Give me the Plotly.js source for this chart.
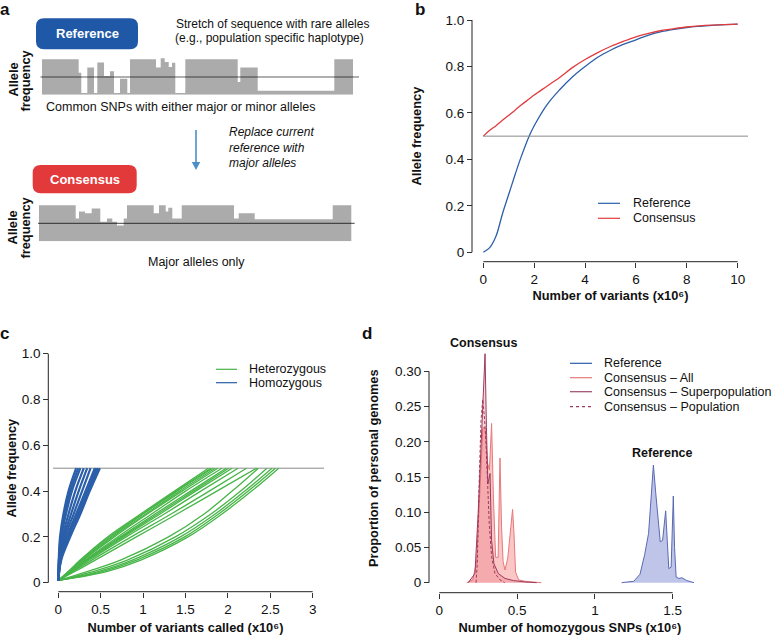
<!DOCTYPE html>
<html>
<head>
<meta charset="utf-8">
<script src="https://cdn.plot.ly/plotly-3.0.1.min.js"></script>
<style>body{margin:0;background:#fff}#fig{width:777px;height:635px}</style>
</head>
<body>
<div id="fig"></div>
<script>
const W = 777, H = 635;
const px = v => v / W;
const py = v => 1 - v / H;
const font = 'Liberation Sans, Arial, Helvetica, sans-serif';

// panel a: allele frequency profile along the stretch (segment edges, frequency per segment)
const refEdges = [0, 36.7, 39.3, 45.3, 52, 55.3, 62, 68, 72, 78, 85.3, 88, 114, 118.7, 122.7, 126.7, 130, 133.3, 143.3, 195.7, 198.3, 215.7, 292.3, 311];
const refFreq = [1.0, 0.62, 0.05, 0.77, 0.05, 0.91, 0.53, 0.66, 0.05, 0.45, 0.05, 1.0, 0.77, 1.03, 0.92, 0.78, 0.9, 0.05, 1.0, 0.36, 0.77, 0.11, 1.0];
const consEdges = [0, 36.7, 40, 46, 52.7, 61.3, 68, 73.3, 78, 84.7, 88, 114.7, 120, 126.7, 129.3, 133.3, 142.7, 195, 199.7, 215.7, 293.7, 312.3];
const consFreq = [1.0, 0.63, 0.83, 0.78, 0.91, 0.54, 0.63, 0.54, 0.44, 0.63, 1.0, 0.78, 1.0, 0.83, 0.93, 0.63, 1.0, 0.63, 0.78, 0.61, 1.0];

// panel b
const variantsM = [0, 0.25, 0.5, 0.75, 1, 1.25, 1.5, 1.8, 2, 2.5, 3, 3.5, 4, 4.5, 5, 5.5, 6, 6.5, 7, 7.5, 8, 8.5, 9, 9.5, 10];
const refAF = [0, 0.02, 0.07, 0.165, 0.25, 0.335, 0.415, 0.5, 0.545, 0.635, 0.70, 0.755, 0.80, 0.84, 0.87, 0.895, 0.915, 0.935, 0.95, 0.96, 0.968, 0.973, 0.977, 0.98, 0.982];
const consAF = [0.5, 0.525, 0.545, 0.568, 0.59, 0.612, 0.635, 0.66, 0.677, 0.715, 0.753, 0.795, 0.83, 0.86, 0.886, 0.908, 0.928, 0.943, 0.955, 0.963, 0.97, 0.975, 0.978, 0.98, 0.982];

// panel c: variants called (x10^6) at each allele frequency level, one row per genome
const hetLevels = [0.01, 0.05, 0.1, 0.2, 0.3, 0.4, 0.5];
const hetUpper = [
  [0, 0.12, 0.26, 0.58, 0.97, 1.37, 1.77],
  [0, 0.125, 0.27, 0.60, 0.99, 1.39, 1.80],
  [0, 0.13, 0.28, 0.62, 1.00, 1.40, 1.82],
  [0, 0.135, 0.29, 0.64, 1.03, 1.43, 1.85],
  [0, 0.14, 0.30, 0.66, 1.05, 1.46, 1.88],
  [0, 0.15, 0.32, 0.70, 1.10, 1.50, 1.93],
  [0, 0.15, 0.33, 0.73, 1.14, 1.56, 1.98],
  [0, 0.155, 0.34, 0.75, 1.17, 1.59, 2.01],
  [0, 0.16, 0.35, 0.77, 1.20, 1.62, 2.05],
  [0, 0.17, 0.37, 0.80, 1.25, 1.68, 2.12],
  [0, 0.18, 0.40, 0.86, 1.33, 1.78, 2.22],
  [0, 0.20, 0.44, 0.92, 1.40, 1.87, 2.34]
];
const hetLower = [
  [0, 0.35, 0.74, 1.30, 1.72, 2.05, 2.36],
  [0, 0.42, 0.82, 1.38, 1.80, 2.15, 2.46],
  [0, 0.48, 0.88, 1.44, 1.85, 2.20, 2.52],
  [0, 0.53, 0.93, 1.49, 1.89, 2.24, 2.56],
  [0, 0.58, 0.98, 1.53, 1.93, 2.28, 2.60]
];
const homLevels = [0.01, 0.1, 0.2, 0.3, 0.4, 0.5];
const homCurves = [
  [0, 0.005, 0.02, 0.06, 0.12, 0.21],
  [0, 0.007, 0.028, 0.075, 0.14, 0.235],
  [0, 0.008, 0.035, 0.09, 0.16, 0.26],
  [0, 0.012, 0.05, 0.12, 0.20, 0.30],
  [0, 0.016, 0.065, 0.15, 0.24, 0.34],
  [0, 0.02, 0.08, 0.18, 0.28, 0.38],
  [0, 0.025, 0.10, 0.21, 0.32, 0.43],
  [0, 0.028, 0.11, 0.225, 0.34, 0.45],
  [0, 0.03, 0.12, 0.24, 0.355, 0.47],
  [0, 0.035, 0.14, 0.26, 0.37, 0.49]
];

// panel d: distribution of homozygous SNP counts (x10^6)
const dRefX = [1.172, 1.25, 1.29, 1.32, 1.345, 1.36, 1.376, 1.39, 1.405, 1.42, 1.435, 1.447, 1.455, 1.465, 1.475, 1.49, 1.497, 1.504, 1.512, 1.522, 1.54, 1.56, 1.59, 1.637];
const dRefY = [0, 0.002, 0.012, 0.04, 0.07, 0.12, 0.167, 0.13, 0.09, 0.058, 0.06, 0.09, 0.102, 0.06, 0.02, 0.022, 0.07, 0.123, 0.05, 0.008, 0.006, 0.007, 0.003, 0];
const dAllX = [0.176, 0.215, 0.24, 0.26, 0.28, 0.294, 0.31, 0.322, 0.336, 0.348, 0.362, 0.378, 0.39, 0.40, 0.41, 0.422, 0.44, 0.46, 0.471, 0.48, 0.49, 0.51, 0.55, 0.60, 0.656];
const dAllY = [0, 0.004, 0.03, 0.12, 0.22, 0.22, 0.17, 0.16, 0.226, 0.12, 0.036, 0.036, 0.177, 0.08, 0.03, 0.018, 0.035, 0.08, 0.104, 0.07, 0.015, 0.004, 0.002, 0.001, 0];
const dSupX = [0.186, 0.229, 0.25, 0.268, 0.279, 0.294, 0.303, 0.312, 0.326, 0.336, 0.351, 0.379, 0.422, 0.476, 0.55, 0.626];
const dSupY = [0, 0.013, 0.10, 0.19, 0.245, 0.325, 0.22, 0.14, 0.155, 0.06, 0.027, 0.013, 0.006, 0.003, 0.001, 0];
const dPopX = [0.236, 0.244, 0.257, 0.268, 0.279, 0.29, 0.30, 0.31, 0.321, 0.336, 0.358, 0.39, 0.42];
const dPopY = [0, 0.027, 0.15, 0.23, 0.26, 0.235, 0.198, 0.14, 0.084, 0.037, 0.013, 0.004, 0];

const blue = '#2b5fa9', red = '#e23b3e', green = '#47b548';

let data = [];

// panel a profiles as filled steps
function stepTrace(edges, freq, xa, ya) {
  return {
    x: edges, y: freq.concat([freq[freq.length - 1]]),
    xaxis: xa, yaxis: ya, mode: 'lines', line: {shape: 'hv', width: 0},
    fill: 'tozeroy', fillcolor: '#ababab', hoverinfo: 'skip', showlegend: false
  };
}
data.push(stepTrace(refEdges, refFreq, 'x4', 'y4'));
data.push(stepTrace(consEdges, consFreq, 'x5', 'y5'));

// panel b
data.push({x: variantsM, y: refAF, xaxis: 'x', yaxis: 'y', mode: 'lines', name: 'Reference',
  line: {color: blue, width: 1.3, shape: 'spline'}, showlegend: false});
data.push({x: variantsM, y: consAF, xaxis: 'x', yaxis: 'y', mode: 'lines', name: 'Consensus',
  line: {color: red, width: 1.3, shape: 'spline'}, showlegend: false});

// panel c
hetUpper.concat(hetLower).forEach(row => data.push({
  x: row, y: hetLevels, xaxis: 'x2', yaxis: 'y2', mode: 'lines', name: 'Heterozygous',
  line: {color: green, width: 1.3, shape: 'spline'}, showlegend: false
}));
homCurves.forEach(row => data.push({
  x: row, y: homLevels, xaxis: 'x2', yaxis: 'y2', mode: 'lines', name: 'Homozygous',
  line: {color: blue, width: 2.2, shape: 'spline'}, showlegend: false
}));

// panel d
data.push({x: dAllX, y: dAllY, xaxis: 'x3', yaxis: 'y3', mode: 'lines', name: 'Consensus – All',
  line: {color: '#e8787a', width: 1}, fill: 'tozeroy', fillcolor: 'rgba(242,120,120,0.42)', showlegend: false});
data.push({x: dSupX, y: dSupY, xaxis: 'x3', yaxis: 'y3', mode: 'lines', name: 'Consensus – Superpopulation',
  line: {color: '#9c3a5c', width: 1}, fill: 'tozeroy', fillcolor: 'rgba(230,90,105,0.25)', showlegend: false});
data.push({x: dPopX, y: dPopY, xaxis: 'x3', yaxis: 'y3', mode: 'lines', name: 'Consensus – Population',
  line: {color: '#9c3a5c', width: 1, dash: '3px,2px'}, showlegend: false});
data.push({x: dRefX, y: dRefY, xaxis: 'x3', yaxis: 'y3', mode: 'lines', name: 'Reference',
  line: {color: '#5a6ab2', width: 1}, fill: 'tozeroy', fillcolor: 'rgba(125,140,212,0.5)', showlegend: false});

const tickFont = {family: font, size: 13.5, color: '#111'};
const titleFont = {family: font, size: 12.8, color: '#111', weight: 'bold'};
const axisBase = {showgrid: false, zeroline: false, showline: false, ticks: 'outside', ticklen: 5,
  tickwidth: 1, tickcolor: '#333', tickfont: tickFont, anchor: 'free', fixedrange: true, automargin: false};
const hidden = {visible: false, fixedrange: true};

function roundRect(x0, y0, x1, y1, r) {
  const X = v => (v / W).toFixed(5), Y = v => (1 - v / H).toFixed(5);
  return `M${X(x0 + r)},${Y(y0)} L${X(x1 - r)},${Y(y0)} Q${X(x1)},${Y(y0)} ${X(x1)},${Y(y0 + r)} ` +
    `L${X(x1)},${Y(y1 - r)} Q${X(x1)},${Y(y1)} ${X(x1 - r)},${Y(y1)} L${X(x0 + r)},${Y(y1)} ` +
    `Q${X(x0)},${Y(y1)} ${X(x0)},${Y(y1 - r)} L${X(x0)},${Y(y0 + r)} Q${X(x0)},${Y(y0)} ${X(x0 + r)},${Y(y0)} Z`;
}
function triangle(cx, tipY, half, len) {
  const X = v => (v / W).toFixed(5), Y = v => (1 - v / H).toFixed(5);
  return `M${X(cx - half)},${Y(tipY - len)} L${X(cx + half)},${Y(tipY - len)} L${X(cx)},${Y(tipY)} Z`;
}

const axisLine = {color: '#222', width: 1};
const midLine = {color: '#8a8a8a', width: 1};
const arrowColor = '#4a8fcb';
let shapes = [
  // panel a
  {type: 'path', xref: 'paper', yref: 'paper', path: roundRect(36, 18.3, 138, 49.3, 8), fillcolor: '#1f58a6', line: {width: 0}},
  {type: 'path', xref: 'paper', yref: 'paper', path: roundRect(32.7, 165, 136.7, 193.3, 8), fillcolor: '#e2393a', line: {width: 0}},
  {type: 'line', xref: 'x4', yref: 'y4', x0: -1.5, x1: 317, y0: 0.5, y1: 0.5, line: {color: 'rgba(0,0,0,0.42)', width: 1.3}},
  {type: 'line', xref: 'x5', yref: 'y5', x0: -1, x1: 315.7, y0: 0.5, y1: 0.5, line: {color: 'rgba(0,0,0,0.75)', width: 1}},
  {type: 'line', xref: 'paper', yref: 'paper', x0: px(196), x1: px(196), y0: py(130), y1: py(163), line: {color: arrowColor, width: 1.6}},
  {type: 'path', xref: 'paper', yref: 'paper', path: triangle(196, 170, 4.2, 8), fillcolor: arrowColor, line: {width: 0}},
  // panel b
  {type: 'line', xref: 'x', yref: 'paper', x0: 0, x1: 10, y0: py(261.7), y1: py(261.7), line: axisLine},
  {type: 'line', xref: 'paper', yref: 'y', x0: px(472), x1: px(472), y0: 0, y1: 1, line: axisLine},
  {type: 'line', xref: 'paper', yref: 'y', x0: px(483), x1: px(748), y0: 0.5, y1: 0.5, line: midLine},
  // panel c
  {type: 'line', xref: 'x2', yref: 'paper', x0: 0, x1: 3, y0: py(591.7), y1: py(591.7), line: axisLine},
  {type: 'line', xref: 'paper', yref: 'y2', x0: px(48.3), x1: px(48.3), y0: 0, y1: 1, line: axisLine},
  {type: 'line', xref: 'paper', yref: 'y2', x0: px(53), x1: px(324), y0: 0.5, y1: 0.5, line: midLine, layer: 'below'},
  // panel d
  {type: 'line', xref: 'x3', yref: 'paper', x0: 0, x1: 1.5, y0: py(592.7), y1: py(592.7), line: axisLine},
  {type: 'line', xref: 'paper', yref: 'y3', x0: px(429), x1: px(429), y0: 0, y1: 0.30, line: axisLine}
];

function txt(text, x, y, opts) {
  return Object.assign({text: text, x: px(x), y: py(y), xref: 'paper', yref: 'paper', showarrow: false,
    xanchor: 'center', yanchor: 'middle', font: {family: font, size: 12.5, color: '#111'}}, opts || {});
}
const bold = (size, color) => ({family: font, size: size, color: color || '#111', weight: 'bold'});

let annotations = [
  // panel letters
  txt('<b>a</b>', 4.5, 9, {font: bold(17)}),
  txt('<b>b</b>', 420, 9, {font: bold(17)}),
  txt('<b>c</b>', 4, 333, {font: bold(17)}),
  txt('<b>d</b>', 367, 333, {font: bold(17)}),
  // panel a
  txt('<b>Reference</b>', 87, 33.8, {font: bold(13, '#fff')}),
  txt('<b>Consensus</b>', 84.7, 179, {font: bold(13, '#fff')}),
  txt('Stretch of sequence with rare alleles', 174, 24, {xanchor: 'left', font: {family: font, size: 12, color: '#111'}}),
  txt('(e.g., population specific haplotype)', 173, 37.5, {xanchor: 'left', font: {family: font, size: 12, color: '#111'}}),
  txt('<b>Allele</b>', 12.5, 80, {textangle: -90, font: bold(12.8)}),
  txt('<b>frequency</b>', 24.5, 80, {textangle: -90, font: bold(12.8)}),
  txt('<b>Allele</b>', 12, 227.5, {textangle: -90, font: bold(12.8)}),
  txt('<b>frequency</b>', 25, 227.5, {textangle: -90, font: bold(12.8)}),
  txt('Common SNPs with either major or minor alleles', 44, 106.5, {xanchor: 'left'}),
  txt('<i>Replace current<br>reference with<br>major alleles</i>', 227, 147.5, {xanchor: 'left', align: 'left', font: {family: font, size: 12, color: '#111'}}),
  txt('Major alleles only', 146, 262, {xanchor: 'left'}),
  // panel d labels
  txt('<b>Consensus</b>', 483.3, 343.3, {font: bold(12.5)}),
  txt('<b>Reference</b>', 661.7, 452.7, {font: bold(12.5)})
];

// manual legends (compact row spacing as in the figure)
function legend(items, keyX0, keyX1, textX, rowY) {
  items.forEach((it, i) => {
    shapes.push({type: 'line', xref: 'paper', yref: 'paper', x0: px(keyX0), x1: px(keyX1),
      y0: py(rowY[i]), y1: py(rowY[i]), line: {color: it.color, width: 1.2, dash: it.dash || 'solid'}});
    annotations.push(txt(it.name, textX, rowY[i], {xanchor: 'left'}));
  });
}
legend([{name: 'Reference', color: blue}, {name: 'Consensus', color: red}], 598, 620, 630.5, [203.3, 218.3]);
legend([{name: 'Heterozygous', color: green}, {name: 'Homozygous', color: blue}], 216, 237, 246.5, [369.3, 382.7]);
legend([
  {name: 'Reference', color: blue},
  {name: 'Consensus – All', color: '#e8787a'},
  {name: 'Consensus – Superpopulation', color: '#9c4a6c'},
  {name: 'Consensus – Population', color: '#9c3a5c', dash: '3px,3px'}
], 570, 592, 602, [363.3, 377.7, 391.7, 406.7]);

const afTicks = {tickvals: [0, 0.2, 0.4, 0.6, 0.8, 1.0], ticktext: ['0', '0.2', '0.4', '0.6', '0.8', '1.0']};

let layout = {
  width: W, height: H,
  margin: {l: 0, r: 0, t: 0, b: 0},
  paper_bgcolor: '#fff', plot_bgcolor: 'rgba(0,0,0,0)',
  showlegend: false,
  font: {family: font, color: '#111'},

  xaxis: Object.assign({}, axisBase, {domain: [px(480.8), px(740.2)], range: [-0.1, 10.1], position: py(261.7),
    tickvals: [0, 2, 4, 6, 8, 10],
    title: {text: 'Number of variants (x10⁶)', font: titleFont, standoff: 5}}),
  yaxis: Object.assign({}, axisBase, afTicks, {domain: [py(256.9), py(15.4)], range: [-0.02, 1.02], position: px(472),
    title: {text: 'Allele frequency', font: titleFont, standoff: 20}}),

  xaxis2: Object.assign({}, axisBase, {domain: [px(55.8), px(315.2)], range: [-0.03, 3.03], position: py(591.7),
    tickvals: [0, 0.5, 1, 1.5, 2, 2.5, 3], ticktext: ['0', '0.5', '1', '1.5', '2', '2.5', '3'],
    title: {text: 'Number of variants called (x10⁶)', font: titleFont, standoff: 9}}),
  yaxis2: Object.assign({}, axisBase, afTicks, {domain: [py(587.3), py(349.1)], range: [-0.02, 1.02], position: px(48.3),
    title: {text: 'Allele frequency', font: titleFont, standoff: 1}}),

  xaxis3: Object.assign({}, axisBase, {domain: [px(436.2), px(703.8)], range: [-0.02, 1.7], position: py(592.7),
    tickvals: [0, 0.5, 1, 1.5], ticktext: ['0', '0.5', '1', '1.5'],
    title: {text: 'Number of homozygous SNPs (x10⁶)', font: titleFont, standoff: 9}}),
  yaxis3: Object.assign({}, axisBase, {domain: [py(586.2), py(350.2)], range: [-0.005, 0.33], position: px(429),
    tickvals: [0, 0.05, 0.1, 0.15, 0.2, 0.25, 0.3], ticktext: ['0', '0.05', '0.10', '0.15', '0.20', '0.25', '0.30'],
    title: {text: 'Proportion of personal genomes', font: titleFont, standoff: 12}}),

  xaxis4: Object.assign({}, hidden, {domain: [px(39), px(360)], range: [-3, 318], anchor: 'y4'}),
  yaxis4: Object.assign({}, hidden, {domain: [py(94.7), py(57.5)], range: [0, 1.05], anchor: 'x4'}),
  xaxis5: Object.assign({}, hidden, {domain: [px(36), px(357)], range: [-3, 318], anchor: 'y5'}),
  yaxis5: Object.assign({}, hidden, {domain: [py(241.3), py(203.5)], range: [0, 1.05], anchor: 'x5'}),

  shapes: shapes,
  annotations: annotations
};

let config = {staticPlot: true, responsive: false};

Plotly.newPlot(document.getElementById('fig'), data, layout, config);
</script>
</body>
</html>
